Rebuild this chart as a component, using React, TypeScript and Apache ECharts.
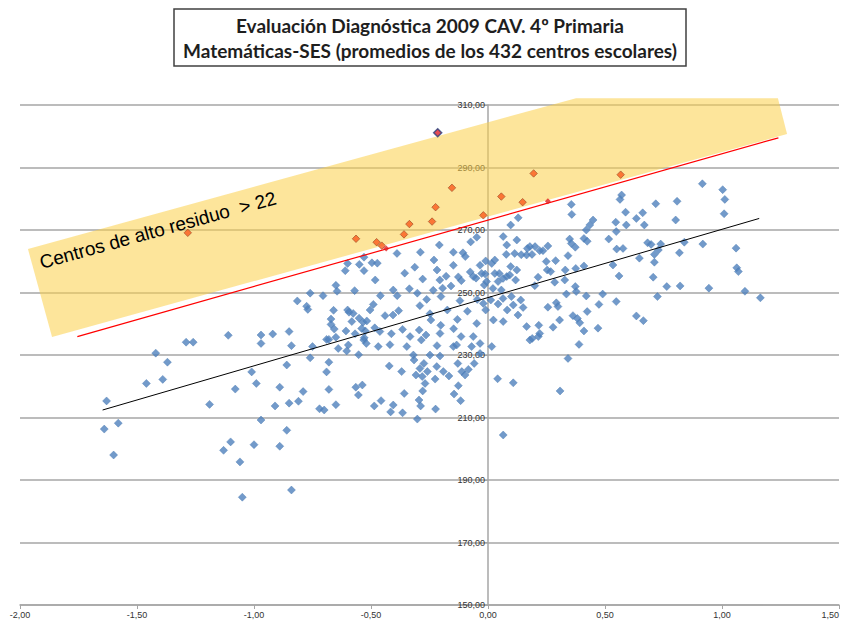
import React, { useEffect, useRef } from "react";
import * as echarts from "echarts";

// Blue points: centros escolares (SES index, Matemáticas average)
const centros: [number, number][] = [
  [-1.63,215.3],[-1.64,206.3],[-1.58,208.2],[-1.60,198.0],[-1.46,220.9],[-1.42,230.6],[-1.37,227.7],[-1.39,222.2],
  [-1.29,234.1],[-1.26,234.1],[-1.19,214.2],[-1.11,236.3],[-1.08,219.1],[-1.01,224.6],[-0.99,220.9],[-0.97,236.4],
  [-0.97,233.7],[-0.92,236.7],[-0.85,237.5],[-0.84,233.0],[-0.86,226.8],[-0.89,219.7],[-0.91,213.7],[-0.85,214.6],
  [-0.81,215.2],[-0.79,218.3],[-0.76,229.1],[-0.75,232.7],[-0.69,235.0],[-0.68,235.0],[-0.65,235.7],[-0.68,227.7],
  [-0.69,224.6],[-0.68,219.0],[-0.72,212.8],[-0.70,212.4],[-0.65,214.1],[-0.64,232.1],[-0.97,209.2],[-0.86,205.9],
  [-1.10,202.2],[-1.13,199.5],[-1.00,201.3],[-0.89,200.8],[-1.06,195.8],[-1.05,184.5],[-0.84,186.8],
  [-0.53,261.3],[-0.60,259.3],[-0.55,259.0],[-0.53,257.0],[-0.61,257.0],[-0.65,252.3],[-0.645,250.4],[-0.57,250.6],
  [-0.705,249.0],[-0.76,249.8],[-0.815,247.3],[-0.775,245.6],[-0.77,244.6],[-0.66,244.3],[-0.60,244.4],[-0.594,243.7],
  [-0.576,243.3],[-0.551,241.8],[-0.582,240.7],[-0.671,241.5],[-0.671,239.8],[-0.657,238.3],[-0.534,240.5],[-0.518,240.9],
  [-0.524,237.7],[-0.568,236.8],[-0.540,238.5],[-0.597,233.2],[-0.531,234.8],[-0.520,233.7],[-0.604,231.3],
  [-0.389,262.5],[-0.289,262.9],[-0.208,265.2],[-0.074,266.2],[-0.048,267.7],[-0.107,262.7],[-0.097,261.5],[-0.148,258.7],
  [-0.231,260.4],[-0.356,256.2],[-0.313,258.1],[-0.279,254.3],[-0.218,257.2],[-0.206,254.0],[-0.179,255.2],[-0.127,255.0],
  [-0.114,253.8],[-0.076,256.6],[-0.051,254.6],[-0.034,258.7],[-0.010,260.1],[-0.012,255.9],[-0.016,252.4],[-0.496,259.5],
  [-0.473,259.4],[-0.482,254.0],[-0.460,249.0],[-0.490,246.2],[-0.405,250.8],[-0.388,249.0],[-0.336,251.2],[-0.302,249.8],
  [-0.262,247.8],[-0.234,250.7],[-0.201,248.7],[-0.194,251.4],[-0.158,252.1],[-0.120,247.4],[-0.046,247.8],[-0.020,246.5],
  [-0.406,242.8],[-0.382,244.2],[-0.291,245.8],[-0.248,243.2],[-0.244,241.2],[-0.202,239.5],[-0.174,244.4],[-0.131,241.4],
  [-0.088,244.0],[-0.048,240.1],[-0.010,244.4],[-0.504,244.4],[-0.440,242.6],[-0.607,237.7],[-0.529,235.5],[-0.484,238.7],
  [-0.462,237.5],[-0.413,236.8],[-0.365,238.2],[-0.333,235.9],[-0.294,238.0],[-0.285,234.8],[-0.265,236.4],[-0.205,236.9],
  [-0.147,238.4],[-0.115,235.9],[-0.063,235.9],[-0.034,233.7],[-0.148,232.7],[-0.218,233.0],[-0.347,232.7],[-0.419,233.3],
  [-0.469,232.7],
  [-0.553,230.1],[-0.422,226.5],[-0.369,224.7],[-0.319,230.0],[-0.316,228.4],[-0.274,227.3],[-0.291,225.7],[-0.248,230.0],
  [-0.205,229.7],[-0.219,226.3],[-0.191,224.7],[-0.259,224.7],[-0.308,223.6],[-0.281,223.1],[-0.226,222.3],[-0.167,223.3],
  [-0.129,227.3],[-0.112,224.7],[-0.098,223.6],[-0.084,225.4],[-0.059,227.3],[-0.034,230.5],[-0.070,232.7],[-0.134,233.2],
  [-0.269,220.9],[-0.279,218.5],[-0.358,217.7],[-0.127,220.2],[-0.145,217.5],[-0.117,215.4],[-0.295,215.6],[-0.288,213.7],
  [-0.224,212.7],[-0.365,211.5],[-0.416,211.8],[-0.405,214.0],[-0.457,215.4],[-0.486,213.7],[-0.565,219.7],[-0.537,220.4],
  [-0.554,217.2],[-0.302,209.5],
  [0.041,222.4],[0.108,221.1],[0.065,204.4],[0.016,232.7],[0.023,241.2],[0.065,240.7],[0.108,246.0],[0.165,239.1],
  [0.179,234.8],[0.215,235.9],
  [0.129,273.9],[0.097,271.6],[-0.148,262.9],[0.016,259.3],[0.065,267.9],[0.080,265.2],[0.123,266.8],[0.179,264.7],
  [0.165,262.0],[0.201,264.7],[-0.063,255.1],[-0.027,256.1],[-0.006,253.5],[0.048,256.1],[0.080,255.1],[0.123,257.2],
  [0.356,278.2],[0.358,275.0],[0.571,281.2],[0.564,279.8],[0.588,275.7],[0.591,271.6],[0.634,273.7],[0.546,272.5],
  [0.548,269.5],[0.078,262.2],[0.114,262.5],[0.142,262.1],[0.168,264.1],[0.188,262.2],[0.221,263.4],[0.235,263.4],
  [0.256,264.9],[0.349,267.1],[0.356,265.7],[0.373,264.5],[0.342,261.8],[0.410,267.3],[0.420,270.0],[0.435,271.6],
  [0.449,273.2],[0.424,266.4],[0.516,267.1],[0.550,263.9],[0.577,264.1],[0.534,258.8],[0.560,255.3],[0.548,247.1],
  [0.490,249.5],[0.474,246.2],[0.289,260.2],[0.249,259.9],[0.253,257.2],[0.268,256.7],[0.330,257.2],[0.375,257.7],
  [0.410,258.5],[0.214,254.9],[0.200,252.2],[0.285,253.3],[0.328,254.0],[0.335,249.5],[0.373,251.9],[0.377,250.3],
  [0.420,248.9],[0.029,260.4],[0.029,256.1],[0.064,254.5],[0.093,255.6],[0.097,258.3],[0.118,254.0],[0.043,253.5],
  [0.021,251.3],[0.057,250.8],[0.012,247.6],[0.043,246.3],[0.064,248.1],[0.100,248.7],[0.140,247.6],[0.150,245.2],
  [0.082,244.4],[0.128,242.8],[0.217,239.5],[0.256,245.3],[0.292,246.7],[0.299,245.5],[0.306,241.2],[0.278,238.9],
  [0.189,235.3],[0.221,236.9],[0.363,242.6],[0.382,241.7],[0.392,240.3],[0.424,243.9],[0.410,237.7],[0.470,238.6],
  [0.389,233.4],[0.342,228.9],[0.634,242.5],[0.308,218.5],
  [0.916,284.8],[1.003,282.9],[1.012,279.8],[1.009,275.2],[0.808,279.2],[0.802,273.2],[0.717,278.4],[0.661,275.5],
  [0.668,271.6],[0.682,265.9],[0.697,265.4],[0.738,265.5],[0.728,263.6],[0.711,262.2],[0.647,261.0],[0.711,259.7],
  [0.818,262.7],[0.839,266.1],[0.918,265.5],[1.060,264.2],[1.063,257.9],[1.070,256.7],[0.706,254.9],[0.764,251.9],
  [0.821,252.1],[0.944,251.4],[1.098,250.4],[0.724,248.7],[1.164,248.3],[0.664,241.0],
];

// Orange points: centros de alto residuo
const altoResiduo: [number, number][] = [
  [-1.283,269.1],[-0.564,267.2],[-0.476,266.1],[-0.454,265.0],[-0.359,268.6],[-0.336,271.9],[-0.239,272.7],
  [-0.224,277.3],[-0.154,283.5],[-0.020,274.7],[0.057,280.7],[0.148,278.9],[0.195,288.1],[0.567,287.7],
];
// Points lying on the threshold line
const sobreUmbral: [number, number][] = [[-0.435,264.1],[0.256,279.2]];
const maximo: [number, number][] = [[-0.215,301.1]];

// Trend line and threshold line end points
const tendencia: [number, number][] = [[-1.647,212.4],[1.159,273.7]];
const umbral: [number, number][] = [[-1.755,235.9],[1.241,299.5]];

// Highlight band corners (data coordinates) and label anchor
const franja: [number, number][] = [[-1.966,263.9],[0.376,312.2],[1.239,312.2],[1.278,300.7],[-1.863,235.8]];
const etiquetaAncla: [number, number] = [-1.904, 256.6];
const etiqueta = "Centros de alto residuo  > 22";

const tituloLineas = [
  "Evaluación Diagnóstica 2009 CAV. 4º Primaria",
  "Matemáticas-SES (promedios de los 432 centros escolares)",
];

const xMin = -2;
const xMax = 1.5;
const fmt = (v: number) => v.toFixed(2).replace(".", ",");

export default function App() {
  const ref = useRef<HTMLDivElement>(null);
  useEffect(() => {
    const chart = echarts.init(ref.current!, null, { renderer: "svg" });
    const axisColor = "#A6A6A6";
    const gridLeft = 20;
    const gridRight = 5;
    const plotWidth = 844 - gridLeft - gridRight;
    // move the value axis to x = 0 (inside the plot)
    const yOffset = -((0 - xMin) / (xMax - xMin)) * plotWidth;
    chart.setOption({
      animation: false,
      backgroundColor: "#ffffff",
      grid: { left: gridLeft, right: gridRight, top: 105, bottom: 21, containLabel: false, outerBoundsMode: "none" },
      xAxis: {
        type: "value",
        min: xMin,
        max: xMax,
        interval: 0.5,
        axisLine: { onZero: false, lineStyle: { color: axisColor, width: 1.5 } },
        axisTick: { show: true, length: 4, lineStyle: { color: axisColor } },
        axisLabel: {
          formatter: fmt,
          fontSize: 9,
          color: "#333",
          margin: 5,
          fontFamily: "Liberation Sans",
          alignMaxLabel: "right",
        },
        splitLine: { show: false },
      },
      yAxis: {
        type: "value",
        min: 150,
        max: 310,
        interval: 20,
        position: "left",
        offset: yOffset,
        axisLine: { show: true, onZero: false, lineStyle: { color: axisColor, width: 1.5 } },
        axisTick: { show: true, length: 4, lineStyle: { color: axisColor } },
        axisLabel: { formatter: fmt, fontSize: 9, color: "#333", margin: 3, fontFamily: "Liberation Sans" },
        splitLine: { show: true, lineStyle: { color: axisColor, width: 1.5 } },
      },
      series: [
        {
          type: "scatter",
          name: "centros",
          data: centros,
          symbol: "diamond",
          symbolSize: 8,
          itemStyle: { color: "#4F81BD", borderColor: "#4476B0", borderWidth: 0.5 },
          z: 3,
        },
        {
          type: "scatter",
          name: "alto",
          data: altoResiduo,
          symbol: "diamond",
          symbolSize: 7.5,
          itemStyle: { color: "#FA5A1C", borderColor: "#9A4A24", borderWidth: 0.8 },
          z: 4,
        },
        {
          type: "scatter",
          name: "umbral-pts",
          data: sobreUmbral,
          symbol: "diamond",
          symbolSize: 6,
          itemStyle: { color: "#E02020" },
          z: 6,
        },
        {
          type: "scatter",
          name: "maximo",
          data: maximo,
          symbol: "diamond",
          symbolSize: 8,
          itemStyle: { color: "#E0202A", borderColor: "#2B3F7A", borderWidth: 1.5 },
          z: 6,
        },
        {
          type: "line",
          data: tendencia,
          symbol: "none",
          lineStyle: { color: "#000000", width: 1 },
          z: 5,
        },
        {
          type: "line",
          data: umbral,
          symbol: "none",
          lineStyle: { color: "#FF0000", width: 1.2 },
          z: 5,
        },
      ],
    });

    const toPx = (p: [number, number]) => chart.convertToPixel({ gridIndex: 0 }, p) as number[];
    const bandPts = franja.map(toPx);
    const a = toPx(franja[4]);
    const b = toPx(franja[3]);
    const angle = -Math.atan2(b[1] - a[1], b[0] - a[0]);
    const anchor = toPx(etiquetaAncla);

    chart.setOption({
      graphic: [
        {
          type: "polygon",
          z: 1,
          silent: true,
          shape: { points: bandPts },
          style: { fill: "rgba(251,208,73,0.55)" },
        },
        {
          type: "text",
          z: 2,
          x: anchor[0],
          y: anchor[1],
          rotation: angle,
          style: {
            text: etiqueta,
            fill: "#000",
            font: "19px 'Liberation Sans', Arial, sans-serif",
            align: "left",
            verticalAlign: "bottom",
          },
        },
        {
          type: "rect",
          z: 10,
          shape: { x: 174, y: 9, width: 512, height: 57 },
          style: { fill: "#ffffff", stroke: "#404040", lineWidth: 1.5 },
        },
        {
          type: "text",
          z: 11,
          x: 430,
          y: 25,
          style: {
            text: tituloLineas[0],
            fill: "#1E1E1E",
            font: "bold 19px Lato, 'Open Sans', sans-serif",
            align: "center",
            verticalAlign: "middle",
          },
        },
        {
          type: "text",
          z: 11,
          x: 430,
          y: 50,
          style: {
            text: tituloLineas[1],
            fill: "#1E1E1E",
            font: "bold 19px Lato, 'Open Sans', sans-serif",
            align: "center",
            verticalAlign: "middle",
          },
        },
      ],
    });

    return () => chart.dispose();
  }, []);

  return (
    <div
      ref={ref}
      style={{ position: "fixed", left: 0, top: 0, width: 844, height: 626, background: "#fff" }}
    />
  );
}
